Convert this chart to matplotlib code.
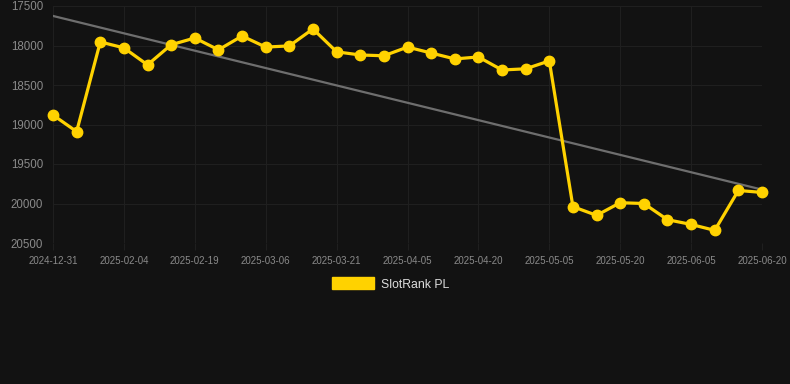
import numpy as np
import matplotlib
matplotlib.use('Agg')
import matplotlib.pyplot as plt
from matplotlib.patches import Patch

# dates (category axis, every 3rd one is labelled)
dates = ['2024-12-31', '2025-01-20', '2025-01-28', '2025-02-04', '2025-02-09', '2025-02-14',
         '2025-02-19', '2025-02-24', '2025-03-01', '2025-03-06', '2025-03-11', '2025-03-16',
         '2025-03-21', '2025-03-26', '2025-03-31', '2025-04-05', '2025-04-10', '2025-04-15',
         '2025-04-20', '2025-04-25', '2025-04-30', '2025-05-05', '2025-05-10', '2025-05-15',
         '2025-05-20', '2025-05-25', '2025-05-30', '2025-06-05', '2025-06-10', '2025-06-15',
         '2025-06-20']
rank = [18880, 19090, 17955, 18030, 18245, 17990, 17905, 18055, 17880, 18020, 18005,
        17790, 18080, 18120, 18130, 18020, 18095, 18170, 18145, 18310, 18295, 18195,
        20040, 20150, 19990, 20000, 20205, 20265, 20340, 19835, 19860]
trend_start = 17626
trend_end = 19824

plt.rcParams['font.family'] = ['Liberation Sans', 'DejaVu Sans']
bg = '#121212'
grid_c = '#1f1f1f'
fig = plt.figure(figsize=(7.9, 3.84), dpi=100, facecolor=bg)
ax = fig.add_axes([53/790, 1-243/384, 709/790, 237/384], facecolor=bg)

x = np.arange(len(rank))
ax.plot([0, len(rank)-1], [trend_start, trend_end], color='#6e6e6e', lw=1.6, zorder=2)
ax.plot(x, rank, color='#FFD200', lw=2.3, marker='o', ms=7.5, zorder=3, clip_on=False)

ax.set_xlim(0, len(rank)-1)
ax.set_ylim(20500, 17500)
ax.set_yticks([17500, 18000, 18500, 19000, 19500, 20000, 20500])
ax.set_xticks(x[::3])
ax.set_xticklabels(dates[::3])

ax.grid(True, color=grid_c, lw=0.8)
for s in ax.spines.values():
    s.set_visible(False)
ax.tick_params(axis='y', length=0, pad=7, labelsize=8.3, labelcolor='#8a8a8a')
ax.tick_params(axis='x', length=5, width=0.8, color=grid_c, pad=4, labelsize=7,
               labelcolor='#8a8a8a')

fig.legend(handles=[Patch(facecolor='#FFD200', edgecolor='#FFD200', label='SlotRank PL')],
           loc='center', bbox_to_anchor=(391/790, 1-284/384), frameon=False,
           handlelength=3.4, handleheight=1.1, handletextpad=0.6,
           fontsize=8.8, labelcolor='#dddddd')

fig.savefig('out.png', dpi=100, facecolor=bg)
